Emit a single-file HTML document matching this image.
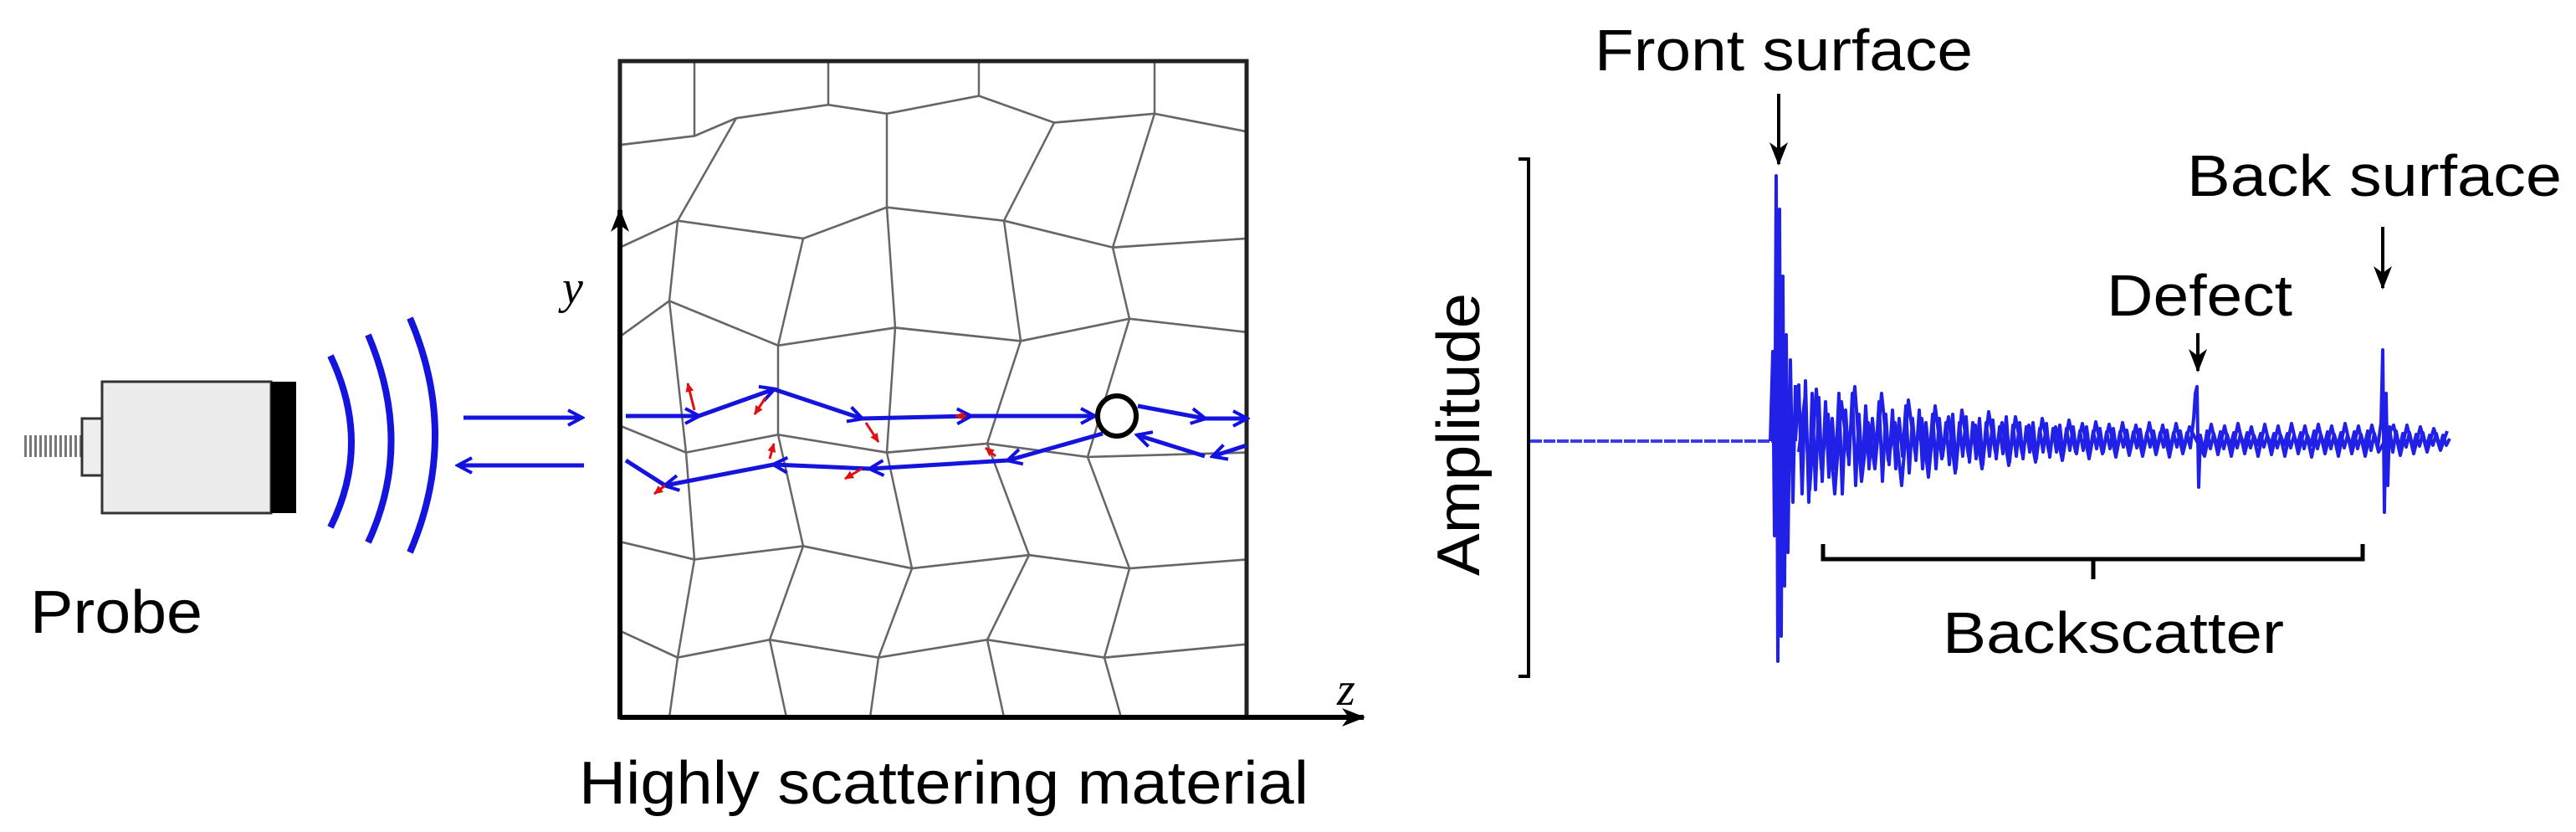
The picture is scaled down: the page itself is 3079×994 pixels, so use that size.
<!DOCTYPE html>
<html><head><style>
html,body{margin:0;padding:0;background:#fff;}
svg{display:block;}
text{font-family:"Liberation Sans",Arial,sans-serif;fill:#000;}
</style></head><body>
<svg width="3079" height="994" viewBox="0 0 3079 994" xmlns="http://www.w3.org/2000/svg">
<defs>
<marker id="abb" markerWidth="22" markerHeight="22" refX="18" refY="11" orient="auto" markerUnits="userSpaceOnUse"><path d="M2,2 L19,11 L2,20" fill="none" stroke="#1010e0" stroke-width="4"/></marker>
<marker id="ak" markerWidth="30" markerHeight="30" refX="26" refY="15" orient="auto" markerUnits="userSpaceOnUse"><path d="M0,4 L28,15 L0,26 L8,15 Z" fill="#000"/></marker>
<marker id="ar" markerWidth="12" markerHeight="12" refX="10" refY="6" orient="auto" markerUnits="userSpaceOnUse"><path d="M0,1 L11,6 L0,11 Z" fill="#e01010"/></marker>
</defs>

<!-- probe -->
<line x1="29" y1="533" x2="98" y2="533" stroke="#777" stroke-width="26" stroke-dasharray="3,3"/>
<rect x="98" y="500" width="24" height="68" fill="#eee" stroke="#333" stroke-width="3"/>
<rect x="122" y="456" width="202" height="157" fill="#ececec" stroke="#333" stroke-width="3"/>
<rect x="324" y="456" width="30" height="157" fill="#000"/>
<g fill="none" stroke="#1414dc" stroke-width="8">
<path d="M395,425 Q445,530 395,630"/>
<path d="M440,400 Q495,530 440,648"/>
<path d="M490,380 Q550,520 490,660"/>
</g>
<g stroke="#1414dc" stroke-width="5" fill="none">
<line x1="554" y1="499" x2="695" y2="499" marker-end="url(#abb)"/>
<line x1="698" y1="556" x2="548" y2="556" marker-end="url(#abb)"/>
</g>
<text x="36" y="756" font-size="72" textLength="206" lengthAdjust="spacingAndGlyphs">Probe</text>

<!-- grains -->
<g transform="translate(0,73) scale(1,1.0652) translate(0,-121)" fill="none" stroke="#666" stroke-width="2.5" stroke-linejoin="round">
<polyline points="741,215 830,205 880,185 990,170 1060,180 1170,160 1260,190 1380,180 1490,200"/>
<polyline points="741,330 810,300 960,320 1060,285 1200,300 1330,330 1490,320"/>
<polyline points="741,430 800,390 930,440 1070,420 1220,435 1350,410 1490,425"/>
<polyline points="741,530 820,560 930,540 1060,560 1180,550 1300,565 1490,560"/>
<polyline points="741,660 830,680 960,665 1090,690 1230,675 1350,690 1490,680"/>
<polyline points="741,760 810,790 920,770 1050,790 1180,770 1320,790 1490,775"/>
<line x1="830" y1="121" x2="830" y2="205"/><line x1="990" y1="121" x2="990" y2="170"/>
<line x1="1170" y1="121" x2="1170" y2="160"/><line x1="1380" y1="121" x2="1380" y2="180"/>
<line x1="880" y1="185" x2="810" y2="300"/><line x1="1060" y1="180" x2="1060" y2="285"/>
<line x1="1260" y1="190" x2="1200" y2="300"/><line x1="1380" y1="180" x2="1330" y2="330"/>
<line x1="810" y1="300" x2="800" y2="390"/><line x1="960" y1="320" x2="930" y2="440"/>
<line x1="1060" y1="285" x2="1070" y2="420"/><line x1="1200" y1="300" x2="1220" y2="435"/>
<line x1="1330" y1="330" x2="1350" y2="410"/>
<line x1="800" y1="390" x2="820" y2="560"/><line x1="930" y1="440" x2="930" y2="540"/>
<line x1="1070" y1="420" x2="1060" y2="560"/><line x1="1220" y1="435" x2="1180" y2="550"/>
<line x1="1350" y1="410" x2="1300" y2="565"/>
<line x1="820" y1="560" x2="830" y2="680"/><line x1="930" y1="540" x2="960" y2="665"/>
<line x1="1060" y1="560" x2="1090" y2="690"/><line x1="1180" y1="550" x2="1230" y2="675"/>
<line x1="1300" y1="565" x2="1350" y2="690"/>
<line x1="830" y1="680" x2="810" y2="790"/><line x1="960" y1="665" x2="920" y2="770"/>
<line x1="1090" y1="690" x2="1050" y2="790"/><line x1="1230" y1="675" x2="1180" y2="770"/>
<line x1="1350" y1="690" x2="1320" y2="790"/>
<line x1="810" y1="790" x2="800" y2="857"/><line x1="920" y1="770" x2="940" y2="857"/>
<line x1="1050" y1="790" x2="1040" y2="857"/><line x1="1180" y1="770" x2="1200" y2="857"/>
<line x1="1320" y1="790" x2="1340" y2="857"/>
</g>
<!-- box -->
<rect x="741" y="73" width="749" height="784" fill="none" stroke="#222" stroke-width="5"/>
<line x1="741" y1="859" x2="741" y2="251" stroke="#000" stroke-width="6" marker-end="url(#ak)"/>
<line x1="741" y1="857" x2="1630" y2="857" stroke="#000" stroke-width="6" marker-end="url(#ak)"/>
<text x="672" y="362" font-size="56" font-style="italic" style="font-family:'Liberation Serif',serif">y</text>
<text x="1598" y="842" font-size="56" font-style="italic" style="font-family:'Liberation Serif',serif">z</text>

<!-- rays -->
<g stroke="#1414dc" stroke-width="5" fill="none">
<line x1="748" y1="497" x2="835" y2="497" marker-end="url(#abb)"/>
<line x1="835" y1="497" x2="925" y2="465" marker-end="url(#abb)"/>
<line x1="925" y1="465" x2="1030" y2="500" marker-end="url(#abb)"/>
<line x1="1030" y1="500" x2="1160" y2="497" marker-end="url(#abb)"/>
<line x1="1160" y1="497" x2="1308" y2="497" marker-end="url(#abb)"/>
<line x1="1360" y1="485" x2="1440" y2="500" marker-end="url(#abb)"/>
<line x1="1440" y1="500" x2="1490" y2="500" marker-end="url(#abb)"/>
<line x1="1490" y1="532" x2="1450" y2="545" marker-end="url(#abb)"/>
<line x1="1440" y1="545" x2="1360" y2="520" marker-end="url(#abb)"/>
<line x1="1318" y1="518" x2="1205" y2="550" marker-end="url(#abb)"/>
<line x1="1205" y1="550" x2="1040" y2="560" marker-end="url(#abb)"/>
<line x1="1040" y1="560" x2="925" y2="555" marker-end="url(#abb)"/>
<line x1="925" y1="555" x2="795" y2="580" marker-end="url(#abb)"/>
<line x1="795" y1="580" x2="748" y2="550"/>
</g>
<g stroke="#e01010" stroke-width="3">
<line x1="830" y1="490" x2="822" y2="458" marker-end="url(#ar)"/>
<line x1="915" y1="475" x2="902" y2="495" marker-end="url(#ar)"/>
<line x1="1035" y1="505" x2="1050" y2="528" marker-end="url(#ar)"/>
<line x1="1155" y1="497" x2="1142" y2="497" marker-end="url(#ar)"/>
<line x1="920" y1="548" x2="925" y2="530" marker-end="url(#ar)"/>
<line x1="1030" y1="560" x2="1010" y2="572" marker-end="url(#ar)"/>
<line x1="1190" y1="545" x2="1178" y2="535" marker-end="url(#ar)"/>
<line x1="795" y1="580" x2="782" y2="590" marker-end="url(#ar)"/>
</g>
<ellipse cx="1335" cy="497" rx="23" ry="24" fill="#fff" stroke="#000" stroke-width="6"/>
<text x="692" y="960" font-size="72" textLength="872" lengthAdjust="spacingAndGlyphs">Highly scattering material</text>

<!-- right panel -->
<line x1="1827" y1="190" x2="1827" y2="808" stroke="#000" stroke-width="4"/>
<line x1="1815" y1="190" x2="1829" y2="190" stroke="#000" stroke-width="4"/>
<line x1="1815" y1="808" x2="1829" y2="808" stroke="#000" stroke-width="4"/>
<text transform="translate(1768,688) rotate(-90)" font-size="72" textLength="338" lengthAdjust="spacingAndGlyphs">Amplitude</text>

<line x1="1829" y1="527" x2="2118" y2="527" stroke="#3a3ae8" stroke-width="4" stroke-dasharray="14,2"/>
<g fill="none" stroke="#2020e6" stroke-width="4" stroke-linejoin="round">
<polyline points="2116,527 2119,420 2121,640 2123,210 2125,790 2127,250 2129,760 2131,330 2133,700 2135,400 2137,660 2140,430 2143,600 2146,460"/>
<polyline id="nz" points="2146,527 2150,460 2154,590 2158,455 2162,600 2166,470 2170,585 2174,475 2178,575 2182,480 2186,570 2190,500 2194,560 2198,470 2202,590 2206,490 2210,555 2214,470 2218,580 2222,495 2226,565 2230,485 2234,560 2238,500 2242,545 2246,480 2250,575 2254,495 2258,555 2262,490 2266,560 2270,500 2274,545 2278,485 2282,565 2286,500 2290,550 2294,490 2298,560 2302,505 2306,548 2310,495 2314,560 2318,500 2322,545 2326,505 2330,555 2334,495 2338,560 2342,505 2346,545 2350,498 2354,552 2358,505 2362,548 2366,500 2370,555 2374,505 2378,545 2382,502 2386,548 2390,510 2394,542 2398,498 2402,552 2406,508 2410,545 2414,505 2418,548 2422,510 2426,540 2430,505 2434,548 2438,512 2442,540 2446,506 2450,546 2454,512 2458,540 2462,508 2466,544 2470,512 2474,538 2478,510 2482,542 2486,515 2490,538 2494,510 2498,542 2502,515 2506,536 2510,512 2514,540 2518,516 2522,536 2526,512 2530,540 2534,516 2538,534 2542,514 2546,538 2550,516 2554,535 2558,513 2562,538 2566,517 2570,534 2574,515 2578,537 2582,517 2586,534 2590,514 2594,538 2598,517 2602,534 2606,515 2610,537 2614,517 2618,535 2622,500 2624,470 2626,462 2628,582 2630,520 2634,540 2638,515 2642,536 2646,518 2650,534 2654,516 2658,536 2662,519 2666,533 2670,517 2674,535 2678,519 2682,533 2686,517 2690,535 2694,520 2698,532 2702,518 2706,534 2710,520 2714,532 2718,518 2722,535 2726,520 2730,532 2734,518 2738,535 2742,520 2746,532 2750,517 2754,536 2758,520 2762,532 2766,515 2770,536 2774,519 2778,533 2782,516 2786,536 2790,519 2794,533 2798,517 2802,535 2806,520 2810,533 2814,516 2818,536 2822,519 2826,534 2830,515 2834,538 2838,518 2842,534 2846,505 2848,418 2850,612 2852,470 2854,580 2856,510 2860,540 2864,515 2868,536 2872,518 2876,534 2880,517 2884,535 2888,519 2892,533 2896,517 2900,535 2904,520 2908,532 2912,518 2916,534 2920,520 2924,532 2928,524"/>
<polyline points="2150,540 2157,478 2163,585 2171,465 2177,560 2185,495 2193,590 2201,480 2209,545 2217,462 2225,575 2233,505 2241,560 2249,470 2257,550 2265,505 2273,580 2281,478 2289,540 2297,500 2305,570 2313,485 2321,548 2329,498 2337,565 2345,490 2353,545 2361,508 2369,560 2377,492 2385,540 2393,505 2401,556 2409,498 2417,542 2425,508 2433,552 2441,500 2449,540 2457,510 2465,550 2473,502 2481,540 2489,506 2497,548 2505,504 2513,542 2521,507 2529,546 2537,505 2545,544 2553,508 2561,545 2569,505 2577,543 2585,508 2593,546 2601,506 2609,542 2617,510 2635,545 2643,507 2651,543 2659,509 2667,545 2675,506 2683,542 2691,510 2699,545 2707,507 2715,543 2723,509 2731,545 2739,506 2747,542 2755,509 2763,546 2771,507 2779,542 2787,509 2795,545 2803,506 2811,542 2819,509 2827,545 2835,508 2843,540 2861,508 2869,544 2877,508 2885,542 2893,510 2901,540 2909,512 2917,538 2925,515"/>
</g>

<g stroke="#000" stroke-width="4">
<line x1="2126" y1="112" x2="2126" y2="196" marker-end="url(#ak)"/>
<line x1="2848" y1="271" x2="2848" y2="344" marker-end="url(#ak)"/>
<line x1="2627" y1="398" x2="2627" y2="443" marker-end="url(#ak)"/>
</g>
<path d="M2179,650 L2179,668 L2824,668 L2824,650 M2502,668 L2502,692" fill="none" stroke="#000" stroke-width="5"/>
<text x="1906" y="84" font-size="70" textLength="452" lengthAdjust="spacingAndGlyphs">Front surface</text>
<text x="2614" y="234" font-size="70" textLength="448" lengthAdjust="spacingAndGlyphs">Back surface</text>
<text x="2518" y="377" font-size="70" textLength="222" lengthAdjust="spacingAndGlyphs">Defect</text>
<text x="2322" y="780" font-size="70" textLength="408" lengthAdjust="spacingAndGlyphs">Backscatter</text>
</svg>
</body></html>
